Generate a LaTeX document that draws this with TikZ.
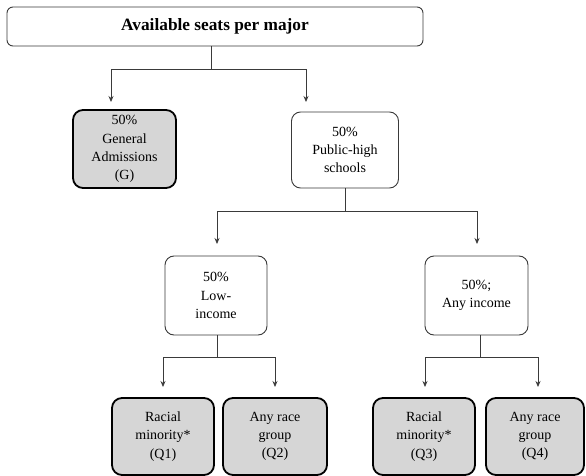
\documentclass[tikz,border=0pt]{standalone}
\usepackage{fontspec}
\setmainfont{Liberation Serif}
\usetikzlibrary{arrows.meta}
\definecolor{boxgray}{HTML}{D6D6D6}
\definecolor{linegray}{HTML}{3A3A3A}
\begin{document}
\begin{tikzpicture}[x=1pt,y=-1pt,
  whitebox/.style={draw=linegray, line width=0.9pt, rounded corners=9pt, fill=white, align=center, font=\fontsize{14}{18.3}\selectfont, inner sep=2pt},
  graybox/.style={draw=black, line width=1.8pt, rounded corners=10pt, fill=boxgray, align=center, font=\fontsize{14}{18.3}\selectfont, inner sep=2pt},
  titlebox/.style={draw=linegray, line width=0.9pt, rounded corners=6pt, fill=white, font=\bfseries\fontsize{17.3}{20}\selectfont},
  conn/.style={draw=linegray, line width=0.8pt},
  arr/.style={conn, -{Stealth[length=6pt,width=5pt]}}
]
\useasboundingbox (0,0) rectangle (586,476);
\node[titlebox, minimum width=416pt, minimum height=39pt] (T) at (215,26.5) {Available seats per major};
\node[graybox, minimum width=103pt, minimum height=78pt] (G) at (124.5,149) {50\%\\General\\Admissions\\(G)};
\node[whitebox, minimum width=107pt, minimum height=76pt] (P) at (345,150) {50\%\\Public-high\\schools};
\node[whitebox, minimum width=102pt, minimum height=79pt] (L) at (216,295.5) {50\%\\Low-\\income};
\node[whitebox, minimum width=103pt, minimum height=79pt] (A) at (476.5,295.5) {50\%;\\Any income};
\node[graybox, minimum width=102pt, minimum height=77pt] (Q1) at (163,436.5) {Racial\\minority*\\(Q1)};
\node[graybox, minimum width=104pt, minimum height=77pt] (Q2) at (275,436.5) {Any race\\group\\(Q2)};
\node[graybox, minimum width=102pt, minimum height=77pt] (Q3) at (424,436.5) {Racial\\minority*\\(Q3)};
\node[graybox, minimum width=98pt, minimum height=77pt] (Q4) at (535,436.5) {Any race\\group\\(Q4)};
% junction coordinates
\coordinate (j0) at (211,69);
\coordinate (eG) at (111,102);
\coordinate (eP) at (306,102);
\coordinate (j1) at (345,211);
\coordinate (eL) at (217,244);
\coordinate (eA) at (477,244);
\coordinate (j2) at (217,357);
\coordinate (e1) at (163,387);
\coordinate (e2) at (275,387);
\coordinate (j3) at (480,357);
\coordinate (e3) at (425,387);
\coordinate (e4) at (538,387);
% connectors
\draw[conn] (T.south -| j0) -- (j0);
\draw[arr] (j0) -| (eG);
\draw[arr] (j0) -| (eP);
\draw[conn] (P.south -| j1) -- (j1);
\draw[arr] (j1) -| (eL);
\draw[arr] (j1) -| (eA);
\draw[conn] (L.south -| j2) -- (j2);
\draw[arr] (j2) -| (e1);
\draw[arr] (j2) -| (e2);
\draw[conn] (A.south -| j3) -- (j3);
\draw[arr] (j3) -| (e3);
\draw[arr] (j3) -| (e4);
\end{tikzpicture}
\end{document}
